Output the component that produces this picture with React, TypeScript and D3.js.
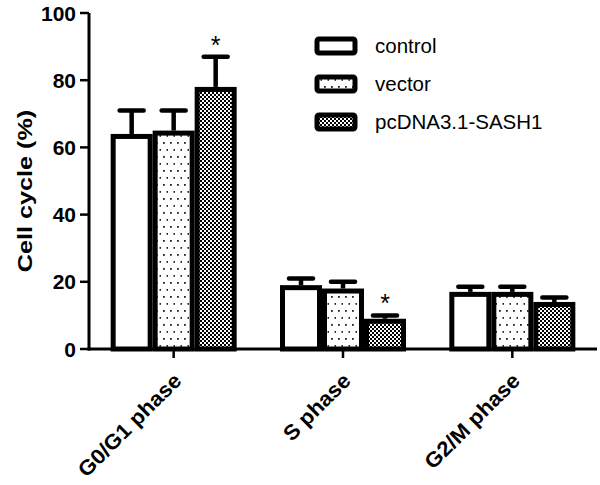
import React from 'react';
import { scaleBand, scaleLinear } from 'd3';

const width = 600;
const height = 485;
const left = 89;
const right = 597;
const top = 13;
const bottom = 349;
const stroke = 5;
const font = 'Liberation Sans, Arial, sans-serif';

const categories = ['G0/G1 phase', 'S phase', 'G2/M phase'];
const series = ['control', 'vector', 'pcDNA3.1-SASH1'];
const controlMeans = [64, 19, 17];
const controlErrors = [7, 2, 1.5];
const vectorMeans = [65, 18, 17];
const vectorErrors = [6, 2, 1.5];
const sashMeans = [78, 9, 14];
const sashErrors = [9, 1, 1.3];
const sashSignificant = [true, true, false];
const yTicks = [0, 20, 40, 60, 80, 100];

const means = [controlMeans, vectorMeans, sashMeans];
const errors = [controlErrors, vectorErrors, sashErrors];
const fills = ['white', 'url(#dots)', 'url(#checks)'];

const x = scaleBand<string>().domain(categories).range([left, right]);
const inner = scaleBand<string>().domain(series).range([-63, 63]);
const y = scaleLinear().domain([0, 100]).range([bottom, top]);
const bw = inner.bandwidth();
const capW = 24;

const App = () => (
  <svg width={width} height={height} style={{ position: 'absolute', left: 0, top: 0, background: 'white' }}>
    <defs>
      <pattern id="dots" width={7} height={14} patternUnits="userSpaceOnUse">
        <rect width={7} height={14} fill="white" />
        <rect x={2} y={2} width={1.8} height={1.8} fill="#222" />
        <rect x={5.5} y={9} width={1.8} height={1.8} fill="#222" />
      </pattern>
      <pattern id="checks" width={4} height={4} patternUnits="userSpaceOnUse">
        <rect width={4} height={4} fill="white" />
        <rect x={0} y={0} width={2} height={2} fill="black" />
        <rect x={2} y={2} width={2} height={2} fill="black" />
      </pattern>
    </defs>

    {categories.map((c, ci) => {
      const cx = (x(c) as number) + x.bandwidth() / 2;
      return (
        <g key={c}>
          {series.map((s, si) => {
            const v = means[si][ci];
            const e = errors[si][ci];
            const bx = cx + (inner(s) as number);
            const mid = bx + bw / 2;
            return (
              <g key={s}>
                <line x1={mid} x2={mid} y1={y(v)} y2={y(v + e)} stroke="black" strokeWidth={4.5} />
                <line x1={mid - capW / 2} x2={mid + capW / 2} y1={y(v + e)} y2={y(v + e)}
                  stroke="black" strokeWidth={4.5} strokeLinecap="round" />
                <rect x={bx + stroke / 2} y={y(v) + stroke / 2} width={bw - stroke}
                  height={y(0) - y(v) - stroke / 2} fill={fills[si]} stroke="black" strokeWidth={stroke} />
                {si === 2 && sashSignificant[ci] && (
                  <text x={mid} y={y(v + e) - 3} textAnchor="middle" fontFamily={font}
                    fontSize={25}>*</text>
                )}
              </g>
            );
          })}
          <line x1={cx} x2={cx} y1={bottom} y2={bottom + 9} stroke="black" strokeWidth={2.5} />
          <text transform={`translate(${cx + 9}, ${bottom + 33}) rotate(-45) scale(1.06, 1)`}
            textAnchor="end" fontFamily={font} fontWeight="bold" fontSize={21}>{c}</text>
        </g>
      );
    })}

    <line x1={left} x2={left} y1={top} y2={bottom + 1.5} stroke="black" strokeWidth={3} />
    <line x1={left - 1.5} x2={right} y1={bottom} y2={bottom} stroke="black" strokeWidth={3} />
    {yTicks.map(t => (
      <g key={t}>
        <line x1={left - 9} x2={left} y1={y(t)} y2={y(t)} stroke="black" strokeWidth={2.5} />
        <text x={left - 13} y={y(t)} dy="0.36em" textAnchor="end" fontFamily={font}
          fontWeight="bold" fontSize={21}>{t}</text>
      </g>
    ))}
    <text transform={`translate(32, ${(top + bottom) / 2 + 10}) rotate(-90) scale(1.2, 1)`}
      textAnchor="middle" fontFamily={font} fontWeight="bold" fontSize={21}>Cell cycle (%)</text>

    {series.map((s, si) => {
      const cy = 46 + si * 38;
      return (
        <g key={s}>
          <rect x={317} y={cy - 7} width={38} height={14} rx={2} fill={fills[si]}
            stroke="black" strokeWidth={stroke} />
          <text x={375} y={cy} dy="0.36em" fontFamily={font} fontSize={20.5}>{s}</text>
        </g>
      );
    })}
  </svg>
);

export default App;
